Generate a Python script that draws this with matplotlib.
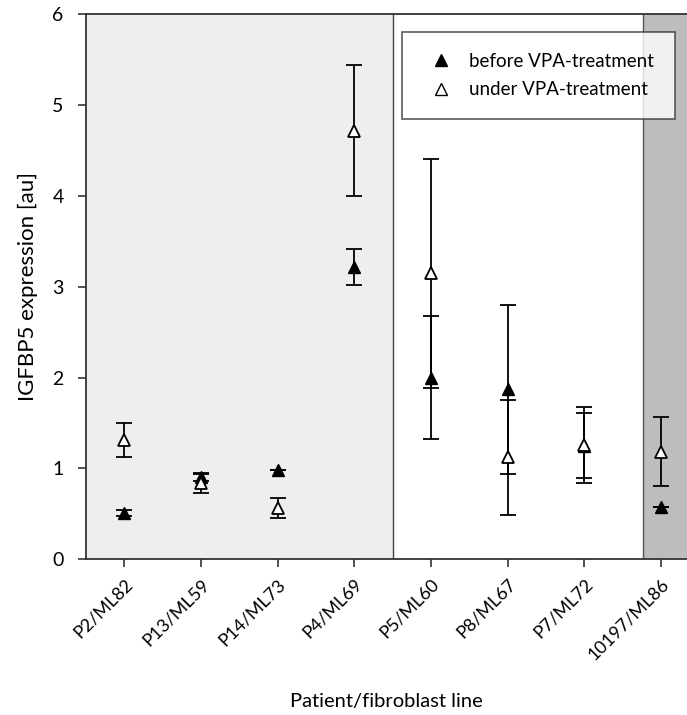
import matplotlib
matplotlib.use('Agg')
import matplotlib.pyplot as plt
import numpy as np
from matplotlib.lines import Line2D

plt.rcParams['font.family'] = ['Lato', 'DejaVu Sans']

lines = ['P2/ML82', 'P13/ML59', 'P14/ML73', 'P4/ML69',
         'P5/ML60', 'P8/ML67', 'P7/ML72', '10197/ML86']

# mean expression and error (au)
before = [0.51, 0.90, 0.98, 3.22, 2.00, 1.87, 1.25, 0.57]
before_err = [0.03, 0.04, 0.0, 0.20, 0.68, 0.93, 0.36, 0.0]
under = [1.31, 0.84, 0.56, 4.72, 3.15, 1.12, 1.26, 1.18]
under_err = [0.19, 0.11, 0.11, 0.72, 1.26, 0.63, 0.42, 0.38]

# shaded groups along the x axis
light_span = (-0.5, 3.5)
dark_start = 6.77

fig = plt.figure(figsize=(6.87, 7.15), dpi=100)
ax = fig.add_axes([0.125, 0.218, 0.875, 0.762])

x = np.arange(len(lines))
ax.axvspan(*light_span, facecolor='#eeeeee', edgecolor='none', zorder=0)
ax.axvspan(dark_start, 8, facecolor='#bdbdbd', edgecolor='none', zorder=0)
ax.axvline(light_span[1], color='#444444', lw=1.0, zorder=1)
ax.axvline(dark_start, color='#555555', lw=1.0, zorder=1)

ax.errorbar(x, before, yerr=before_err, fmt='^', color='black', mfc='black',
            mec='black', ms=9, capsize=6, elinewidth=1.3, capthick=1.3, zorder=3)
ax.errorbar(x, under, yerr=under_err, fmt='^', color='black', mfc='white',
            mec='black', ms=9, mew=1.3, capsize=6, elinewidth=1.3,
            capthick=1.3, zorder=4)

ax.set_xlim(-0.5, 7.34)
ax.set_ylim(0, 6)
ax.set_yticks(range(7))
ax.set_xticks(x)
ax.set_xticklabels(lines, rotation=45, ha='right', rotation_mode='anchor')
ax.tick_params(axis='both', labelsize=13, direction='out', length=6,
               width=1.2, color='#333333')
ax.tick_params(axis='y', labelsize=14, pad=10)
ax.tick_params(axis='x', pad=6)
for side in ['left', 'bottom', 'top']:
    ax.spines[side].set_color('#333333')
    ax.spines[side].set_linewidth(1.3)
ax.spines['right'].set_visible(False)

ax.set_ylabel('IGFBP5 expression [au]', fontsize=16, labelpad=10)
ax.set_xlabel('Patient/fibroblast line', fontsize=14.5, labelpad=22)

handles = [
    Line2D([], [], marker='^', ls='none', color='black', ms=9),
    Line2D([], [], marker='^', ls='none', mfc='white', mec='black', ms=8, mew=1.0),
]
leg = ax.legend(handles, ['before VPA-treatment', 'under VPA-treatment'],
                loc='upper right', bbox_to_anchor=(0.98, 0.967),
                borderaxespad=0, fontsize=13.5, frameon=True, fancybox=False,
                edgecolor='#333333', borderpad=1.1, handlelength=2.0,
                handletextpad=0.5, labelspacing=0.6)
leg.get_frame().set_linewidth(1.2)
leg.set_zorder(5)

fig.savefig('out.png', dpi=100)
